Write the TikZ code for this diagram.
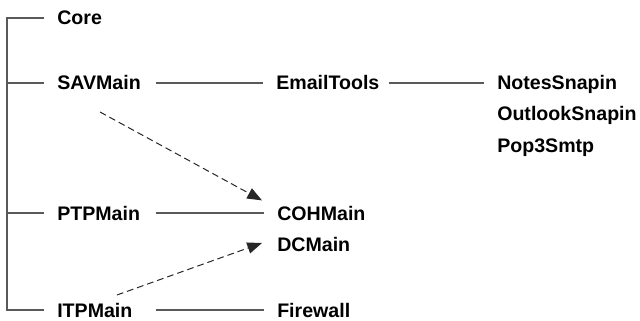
\documentclass[tikz,border=0pt]{standalone}
\usepackage{fontspec}
\setmainfont{Liberation Sans}
\usepackage{tikz}
\usetikzlibrary{arrows.meta, positioning, calc}

\begin{document}
\begin{tikzpicture}[x=0.75pt, y=-0.75pt,
  mod/.style={anchor=west, inner sep=0pt, text height=10.5pt, text depth=0pt,
    font=\fontsize{14.7}{17}\selectfont\bfseries},
  root/.style={mod, text width=73.5pt, align=left},
  tree/.style={line width=0.9pt, black!65},
  link/.style={line width=0.9pt, black!65, shorten >=9.75pt},
  dep/.style={line width=0.75pt, black!85, dash pattern=on 5pt off 3pt,
    -{Triangle[length=11pt, width=8.5pt]}}]
\useasboundingbox (0,0) rectangle (640,321);

% top level
\node[root] (core) at (57,18) {Core};
\node[root] (sav) at (57,83) {SAVMain};
\node[root] (ptp) at (57,213) {PTPMain};
\node[root] (itp) at (57,310) {ITPMain};
\coordinate (bot) at (7,310);

% second level
\node[mod] (email) at (276,83) {EmailTools};
\node[mod] (coh) at (277,213) {COHMain};
\node[mod] (dc) at (277,245) {DCMain};
\node[mod] (fw) at (277,310) {Firewall};

% snapins
\node[mod] (notes) at (497,83) {NotesSnapin};
\node[mod] (outlook) at (497,114) {OutlookSnapin};
\node[mod] (pop) at (497,145) {Pop3Smtp};

% tree
\draw[tree, shorten <=9.75pt, shorten >=9.75pt] (core.west) -| (bot) -- (itp.west);
\draw[tree, shorten >=9.75pt] (sav.west -| bot) -- (sav.west);
\draw[tree, shorten >=9.75pt] (ptp.west -| bot) -- (ptp.west);

% links
\draw[link] (sav) -- (email);
\draw[link] (ptp) -- (coh);
\draw[link] (itp) -- (fw);
\draw[link, shorten <=6.75pt] (email) -- (notes);

% dependencies
\coordinate (savdep) at (100,112);
\coordinate (itpdep) at (117,295);
\draw[dep] (savdep) -- ([xshift=-11.25pt, yshift=4pt]coh.north west);
\draw[dep] (itpdep) -- ([xshift=-11.25pt, yshift=1.5pt]dc.west);
\end{tikzpicture}
\end{document}
